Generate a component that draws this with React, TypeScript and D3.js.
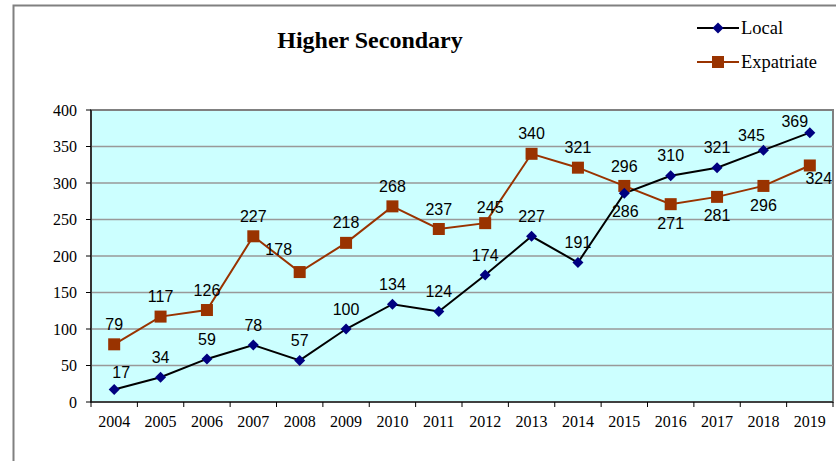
import React from "react";
import * as d3 from "d3";

const years = [
  "2004", "2005", "2006", "2007", "2008", "2009", "2010", "2011",
  "2012", "2013", "2014", "2015", "2016", "2017", "2018", "2019",
];
const local = [17, 34, 59, 78, 57, 100, 134, 124, 174, 227, 191, 286, 310, 321, 345, 369];
const expatriate = [79, 117, 126, 227, 178, 218, 268, 237, 245, 340, 321, 296, 271, 281, 296, 324];
const yTicks = [0, 50, 100, 150, 200, 250, 300, 350, 400];

const width = 836;
const height = 461;
const plot = { left: 91, right: 833, top: 110, bottom: 402 };

// label nudges where the default "above" spot would collide
const localNudge: Record<number, [number, number]> = {
  0: [7, -17],
  11: [1, 18],
  14: [-12, -15],
  15: [-15, -11],
};
const expatNudge: Record<number, [number, number]> = {
  4: [-21, -23],
  8: [5, -16],
  12: [0, 19],
  13: [0, 19],
  14: [0, 19],
  15: [9, 13],
};

const App = () => {
  const x = d3.scaleBand<string>().domain(years).range([plot.left, plot.right]);
  const y = d3.scaleLinear().domain([0, 400]).range([plot.bottom, plot.top]);
  const cx = (i: number) => (x(years[i]) as number) + x.bandwidth() / 2;

  const line = d3
    .line<number>()
    .x((_, i) => cx(i))
    .y((d) => y(d));

  const serif = "'Liberation Serif', 'Times New Roman', serif";
  const sans = "'Liberation Sans', Arial, sans-serif";

  const diamond = (px: number, py: number, r = 5.5) =>
    `M${px},${py - r}L${px + r},${py}L${px},${py + r}L${px - r},${py}Z`;

  const labels = (vals: number[], nudge: Record<number, [number, number]>) =>
    vals.map((v, i) => {
      const [dx, dy] = nudge[i] || [0, -20];
      return (
        <text
          key={i}
          x={cx(i) + dx}
          y={y(v) + dy}
          dy="0.35em"
          textAnchor="middle"
          fontFamily={sans}
          fontSize={16}
          fill="#000"
        >
          {v}
        </text>
      );
    });

  return (
    <svg
      width={width}
      height={height}
      style={{ position: "absolute", left: 0, top: 0, background: "#fff" }}
    >
      {/* outer chart frame */}
      <rect x={13.5} y={5.5} width={840} height={480} fill="#fff" stroke="#808080" strokeWidth={2} />

      <text x={370} y={48} textAnchor="middle" fontFamily={serif} fontWeight="bold" fontSize={24}>
        Higher Secondary
      </text>

      {/* plot background */}
      <rect
        x={plot.left}
        y={plot.top}
        width={plot.right - plot.left}
        height={plot.bottom - plot.top}
        fill="#CCFFFF"
        stroke="#808080"
        strokeWidth={2}
      />

      {yTicks
        .filter((t) => t > 0 && t < 400)
        .map((t) => (
          <line key={t} x1={plot.left} x2={plot.right} y1={y(t)} y2={y(t)} stroke="#999" strokeWidth={1.5} />
        ))}

      {/* axes */}
      <line x1={plot.left} x2={plot.left} y1={plot.top} y2={plot.bottom} stroke="#000" strokeWidth={1.2} />
      <line x1={plot.left} x2={plot.right} y1={plot.bottom} y2={plot.bottom} stroke="#000" strokeWidth={1.2} />
      {yTicks.map((t) => (
        <g key={t}>
          <line x1={plot.left - 5} x2={plot.left} y1={y(t)} y2={y(t)} stroke="#000" />
          <text x={77} y={y(t)} dy="0.35em" textAnchor="end" fontFamily={serif} fontSize={16}>
            {t}
          </text>
        </g>
      ))}
      {years.map((yr, i) => (
        <g key={yr}>
          <line
            x1={x(yr) as number}
            x2={x(yr) as number}
            y1={plot.bottom}
            y2={plot.bottom + 5}
            stroke="#000"
          />
          <text x={cx(i)} y={427} textAnchor="middle" fontFamily={serif} fontSize={16}>
            {yr}
          </text>
        </g>
      ))}
      <line x1={plot.right} x2={plot.right} y1={plot.bottom} y2={plot.bottom + 5} stroke="#000" />

      {/* series */}
      <path d={line(expatriate) || ""} fill="none" stroke="#993300" strokeWidth={2} />
      <path d={line(local) || ""} fill="none" stroke="#000" strokeWidth={2} />
      {expatriate.map((v, i) => (
        <rect key={i} x={cx(i) - 6} y={y(v) - 6} width={12} height={12} fill="#993300" />
      ))}
      {local.map((v, i) => (
        <path key={i} d={diamond(cx(i), y(v))} fill="#000080" />
      ))}

      {labels(local, localNudge)}
      {labels(expatriate, expatNudge)}

      {/* legend */}
      <line x1={697} x2={739} y1={28} y2={28} stroke="#000" strokeWidth={2} />
      <path d={diamond(718, 28)} fill="#000080" />
      <text x={741} y={28} dy="0.35em" fontFamily={serif} fontSize={18.5}>
        Local
      </text>
      <line x1={697} x2={739} y1={62} y2={62} stroke="#993300" strokeWidth={2} />
      <rect x={712} y={56} width={12} height={12} fill="#993300" />
      <text x={741} y={62} dy="0.35em" fontFamily={serif} fontSize={18.5}>
        Expatriate
      </text>
    </svg>
  );
};

export default App;
